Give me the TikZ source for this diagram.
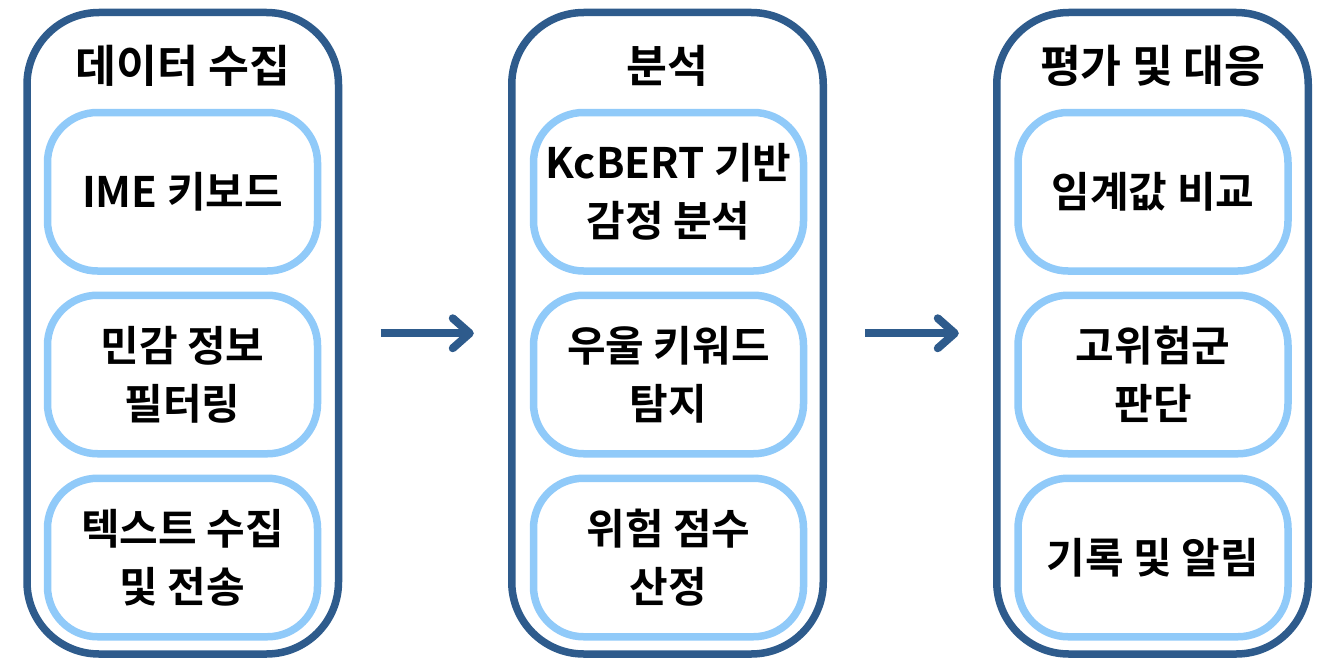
\documentclass[tikz,border=0pt]{standalone}
\usepackage{fontspec}
\setmainfont{Noto Sans CJK KR}[BoldFont={Noto Sans CJK KR Bold}]
\usetikzlibrary{arrows.meta,positioning}
\definecolor{darkblue}{RGB}{46,91,140}
\definecolor{lightblue}{RGB}{144,202,249}
\tikzset{
  outerbox/.style={draw=darkblue, line width=7.5pt, rounded corners=72pt,
    minimum width=311.5pt, minimum height=641.5pt, inner sep=0pt, outer sep=0pt, fill=white},
  innerbox/.style={draw=lightblue, line width=7.5pt, rounded corners=50pt,
    minimum width=270pt, minimum height=158.5pt, inner sep=0pt, outer sep=0pt,
    align=center, font=\fontsize{42}{58}\selectfont\bfseries},
  titletext/.style={font=\fontsize{44.5}{50}\selectfont\bfseries, inner sep=0pt},
  flowarrow/.style={draw=darkblue, line width=8pt,
    -{Straight Barb[length=17pt,width=30pt,round]}}
}
\begin{document}
\begin{tikzpicture}[x=1pt,y=-1pt]
\useasboundingbox[fill=white] (0,0) rectangle (1334,661);
% outer boxes
\node[outerbox] (c1) at (182.75,333.25) {};
\node[outerbox] (c2) at (667.5,333.25) {};
\node[outerbox] (c3) at (1152.5,333.25) {};
% titles
\node[titletext] (t1) at (182.75,66) {데이터 수집};
\node[titletext] (t2) at (667.5,66) {분석};
\node[titletext] (t3) at (1152.5,66) {평가 및 대응};
% column 1
\node[innerbox] (a1) at (182.5,191.75) {IME 키보드};
\node[innerbox] (a2) at (182.5,374.5) {민감 정보\\필터링};
\node[innerbox] (a3) at (182.5,557.5) {텍스트 수집\\및 전송};
% column 2
\node[innerbox] (b1) at (668.5,191.75) {KcBERT 기반\\감정 분석};
\node[innerbox] (b2) at (668.5,374.5) {우울 키워드\\탐지};
\node[innerbox] (b3) at (668.5,557.5) {위험 점수\\산정};
% column 3
\node[innerbox] (d1) at (1153,191.75) {임계값 비교};
\node[innerbox] (d2) at (1153,374.5) {고위험군\\판단};
\node[innerbox] (d3) at (1153,557.5) {기록 및 알림};
% arrows
\draw[flowarrow] ([xshift=42pt]c1.east) -- ([xshift=-38pt]c2.west);
\draw[flowarrow] ([xshift=42pt]c2.east) -- ([xshift=-38pt]c3.west);
\end{tikzpicture}
\end{document}
